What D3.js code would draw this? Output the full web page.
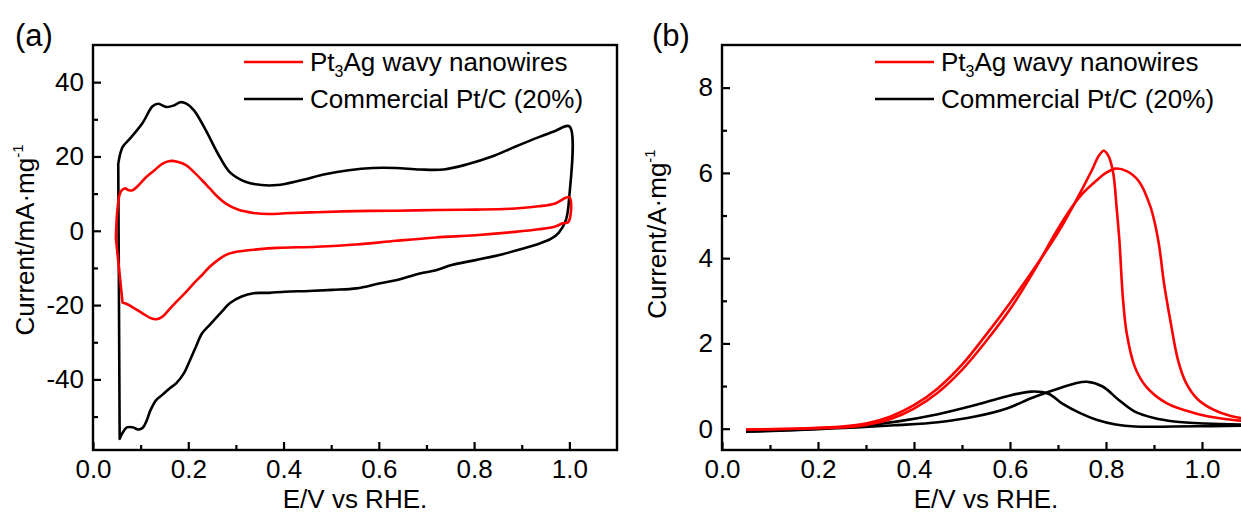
<!DOCTYPE html>
<html>
<head>
<meta charset="utf-8">
<script src="https://cdn.jsdelivr.net/npm/d3@7"></script>
<style>
  html, body { margin: 0; padding: 0; background: #fff; }
  svg { display: block; }
  text { font-family: "Liberation Sans", Arial, sans-serif; fill: #000; }
</style>
</head>
<body>
<svg id="chart" width="1241" height="515"></svg>
<script>
// ---- (a) cyclic voltammograms, [E (V vs RHE), current (mA/mg)] ----
const nwAnodic = [[0.048,-2],[0.058,10.5],[0.067,11.4],[0.075,10.9],[0.083,10.9],[0.096,12.3],[0.112,14.5],[0.129,16.3],[0.146,18.1],[0.162,18.8],[0.179,18.5],[0.196,17.6],[0.212,15.8],[0.229,13.6],[0.245,11.4],[0.262,9.1],[0.279,7.3],[0.304,5.7],[0.337,4.8],[0.370,4.5],[0.403,4.7],[0.470,5.0],[0.553,5.3],[0.636,5.4],[0.720,5.6],[0.803,5.7],[0.886,6.0],[0.936,6.6],[0.969,7.3],[1.0,9.0]];
const nwCathodic = [[0.998,2.4],[0.986,2.0],[0.969,1.1],[0.936,0.4],[0.886,-0.3],[0.803,-1.2],[0.720,-1.8],[0.636,-2.7],[0.553,-3.7],[0.470,-4.3],[0.387,-4.6],[0.345,-5.0],[0.304,-5.6],[0.279,-6.5],[0.262,-7.9],[0.245,-9.7],[0.229,-11.9],[0.212,-14.1],[0.196,-16.4],[0.179,-18.6],[0.162,-20.9],[0.146,-23.1],[0.133,-23.8],[0.121,-23.5],[0.104,-22.2],[0.087,-20.9],[0.071,-19.7],[0.062,-19.3]];
const ptcAnodic = [[0.053,18],[0.062,22.5],[0.079,25],[0.104,29],[0.125,33.5],[0.137,34.2],[0.154,33.3],[0.171,33.8],[0.183,34.6],[0.196,34.2],[0.212,32.4],[0.237,27],[0.262,20.8],[0.287,15.8],[0.320,13.2],[0.354,12.3],[0.387,12.3],[0.437,13.6],[0.487,15.2],[0.537,16.3],[0.587,16.9],[0.636,16.9],[0.686,16.5],[0.736,16.5],[0.786,17.9],[0.836,19.9],[0.886,22.6],[0.936,25.2],[0.969,26.8],[1.0,28.1]];
const ptcCathodic = [[0.999,8],[0.993,3],[0.978,-0.5],[0.961,-2.2],[0.936,-3.5],[0.903,-4.8],[0.853,-6.5],[0.803,-7.9],[0.753,-9.2],[0.720,-10.6],[0.686,-11.5],[0.636,-13.3],[0.603,-14.1],[0.553,-15.5],[0.503,-15.9],[0.453,-16.2],[0.403,-16.4],[0.370,-16.7],[0.337,-16.8],[0.312,-17.7],[0.287,-19.5],[0.270,-21.8],[0.245,-25.3],[0.229,-27.6],[0.216,-31.2],[0.204,-34.7],[0.191,-38.3],[0.175,-41],[0.162,-42.3],[0.146,-44.1],[0.133,-45.5],[0.121,-48.2],[0.112,-51.3],[0.104,-53.1],[0.096,-53.5],[0.083,-52.9],[0.071,-52.9],[0.062,-54.4],[0.056,-56]];

// ---- (b) methanol oxidation scans, [E (V vs RHE), current (A/mg)] ----
const nwScanSharp = [[0.05,-0.02],[0.15,0.0],[0.25,0.05],[0.30,0.12],[0.35,0.28],[0.40,0.55],[0.45,0.95],[0.50,1.5],[0.55,2.2],[0.60,2.95],[0.65,3.75],[0.70,4.6],[0.74,5.4],[0.77,6.05],[0.785,6.4],[0.795,6.52],[0.805,6.4],[0.815,6.0],[0.822,5.2],[0.828,4.4],[0.835,3.1],[0.843,2.25],[0.86,1.45],[0.884,0.98],[0.926,0.6],[0.983,0.37],[1.04,0.24],[1.1,0.17]];
const nwScanBroad = [[0.05,-0.02],[0.15,0.0],[0.25,0.03],[0.30,0.09],[0.35,0.22],[0.40,0.47],[0.45,0.85],[0.50,1.38],[0.55,2.05],[0.60,2.8],[0.65,3.7],[0.69,4.5],[0.72,5.05],[0.75,5.5],[0.78,5.82],[0.80,6.0],[0.82,6.1],[0.843,6.04],[0.868,5.81],[0.893,5.19],[0.909,4.41],[0.921,3.4],[0.934,2.54],[0.95,1.61],[0.967,1.07],[0.992,0.68],[1.025,0.44],[1.06,0.3],[1.1,0.22]];
const ptcScanEarly = [[0.05,-0.06],[0.12,-0.04],[0.2,0.0],[0.28,0.06],[0.36,0.16],[0.45,0.34],[0.53,0.56],[0.59,0.75],[0.645,0.87],[0.68,0.82],[0.71,0.58],[0.745,0.37],[0.78,0.21],[0.82,0.1],[0.86,0.05],[0.94,0.05],[1.02,0.06],[1.1,0.07]];
const ptcScanLate = [[0.05,-0.07],[0.12,-0.05],[0.2,-0.01],[0.28,0.03],[0.36,0.08],[0.45,0.15],[0.53,0.29],[0.595,0.48],[0.645,0.72],[0.695,0.92],[0.735,1.06],[0.76,1.1],[0.793,0.99],[0.826,0.68],[0.86,0.4],[0.9,0.25],[0.942,0.17],[1.008,0.12],[1.1,0.09]];

// ---- axes ----
const xDomain = [0, 1.1];
const xMajor = [0, 0.2, 0.4, 0.6, 0.8, 1.0];
const xMinor = [0.1, 0.3, 0.5, 0.7, 0.9];
const yDomainA = [-59, 50];
const yMajorA = [-40, -20, 0, 20, 40];
const yMinorA = [-50, -30, -10, 10, 30];
const yDomainB = [-0.5, 9];
const yMajorB = [0, 2, 4, 6, 8];
const yMinorB = [1, 3, 5, 7];

const seriesNames = ["Pt", "3", "Ag wavy nanowires"];
const refName = "Commercial Pt/C (20%)";
const xTitle = "E/V vs RHE.";
const RED = "#ff0000";
const FS = 26;            // tick labels and axis titles
const LFS = 26;           // legend entries

const svg = d3.select("#chart");
svg.append("rect").attr("width", 1241).attr("height", 515).attr("fill", "#fff");

// plain hyphen for negative tick values
const intFmt = d => String(d);

function panel(opt) {
  const g = svg.append("g");
  const x = d3.scaleLinear().domain(xDomain).range([opt.left, opt.right]);
  const y = d3.scaleLinear().domain(opt.yDomain).range([opt.bottom, opt.top]);

  const clipId = "clip-" + opt.tag;
  svg.append("clipPath").attr("id", clipId)
    .append("rect").attr("x", opt.left).attr("y", opt.top)
    .attr("width", opt.right - opt.left).attr("height", opt.bottom - opt.top);

  const line = d3.line().x(d => x(d[0])).y(d => y(d[1]))
    .curve(d3.curveCatmullRom.alpha(0.5));

  const curves = g.append("g").attr("clip-path", `url(#${clipId})`);
  opt.curves.forEach(c => {
    curves.append("path").attr("d", line(c.pts) + (c.closed ? "Z" : ""))
      .attr("fill", "none").attr("stroke", c.color)
      .attr("stroke-width", 2.6).attr("stroke-linejoin", "round");
  });

  const styleAxis = sel => {
    sel.select(".domain").remove();
    sel.selectAll("line").attr("stroke", "#000").attr("stroke-width", 2.2);
    sel.selectAll("text").style("font-size", FS + "px").attr("fill", "#000");
  };
  // ticks point inward from the bottom and left edges
  g.append("g").attr("transform", `translate(0,${opt.bottom})`)
    .call(d3.axisBottom(x).tickValues(xMajor).tickSize(-8).tickPadding(10)
      .tickFormat(d3.format(".1f")))
    .call(styleAxis);
  g.append("g").attr("transform", `translate(0,${opt.bottom})`)
    .call(d3.axisBottom(x).tickValues(xMinor).tickSize(-5).tickFormat(""))
    .call(styleAxis);
  g.append("g").attr("transform", `translate(${opt.left},0)`)
    .call(d3.axisLeft(y).tickValues(opt.yMajor).tickSize(-8).tickPadding(9)
      .tickFormat(intFmt))
    .call(styleAxis);
  g.append("g").attr("transform", `translate(${opt.left},0)`)
    .call(d3.axisLeft(y).tickValues(opt.yMinor).tickSize(-5).tickFormat(""))
    .call(styleAxis);

  // frame
  g.append("rect").attr("x", opt.left).attr("y", opt.top)
    .attr("width", opt.right - opt.left).attr("height", opt.bottom - opt.top)
    .attr("fill", "none").attr("stroke", "#000").attr("stroke-width", 2.4);

  // x title
  g.append("text").attr("x", (opt.left + opt.right) / 2).attr("y", 508)
    .attr("text-anchor", "middle").style("font-size", FS + "px").text(xTitle);

  // y title with superscript
  const yt = g.append("text")
    .attr("transform", `translate(${opt.yTitleX},${opt.yTitleY}) rotate(-90)`)
    .attr("text-anchor", "middle").style("font-size", FS + "px");
  yt.append("tspan").text(opt.yTitle);
  yt.append("tspan").attr("dy", -11).style("font-size", "15px").text("-1");

  // panel letter
  g.append("text").attr("x", opt.letterX).attr("y", 46)
    .style("font-size", "31px").text(opt.letter);

  // legend
  const leg = [{ color: RED, y: 62, kind: "nw" }, { color: "#000", y: 99, kind: "ptc" }];
  leg.forEach(l => {
    g.append("line").attr("x1", opt.legX).attr("x2", opt.legX + 59)
      .attr("y1", l.y).attr("y2", l.y)
      .attr("stroke", l.color).attr("stroke-width", 2.6);
    const t = g.append("text").attr("x", opt.legX + 66).attr("y", l.y + 9)
      .style("font-size", LFS + "px");
    if (l.kind === "nw") {
      t.append("tspan").text(seriesNames[0]);
      t.append("tspan").attr("dy", 6).style("font-size", "16px").text(seriesNames[1]);
      t.append("tspan").attr("dy", -6).text(seriesNames[2]);
    } else {
      t.text(refName);
    }
  });
}

panel({
  tag: "a", left: 93, right: 617, top: 45, bottom: 450,
  yDomain: yDomainA, yMajor: yMajorA, yMinor: yMinorA,
  yTitle: "Current/mA\u00B7mg", yTitleX: 34, yTitleY: 240,
  letter: "(a)", letterX: 15, legX: 244,
  curves: [
    { pts: ptcAnodic.concat(ptcCathodic), color: "#000", closed: true },
    { pts: nwAnodic.concat(nwCathodic), color: RED, closed: true }
  ]
});

panel({
  tag: "b", left: 722, right: 1250, top: 45, bottom: 450,
  yDomain: yDomainB, yMajor: yMajorB, yMinor: yMinorB,
  yTitle: "Current/A\u00B7mg", yTitleX: 666, yTitleY: 234,
  letter: "(b)", letterX: 652, legX: 875,
  curves: [
    { pts: ptcScanEarly, color: "#000" },
    { pts: ptcScanLate, color: "#000" },
    { pts: nwScanBroad, color: RED },
    { pts: nwScanSharp, color: RED }
  ]
});
</script>
</body>
</html>
